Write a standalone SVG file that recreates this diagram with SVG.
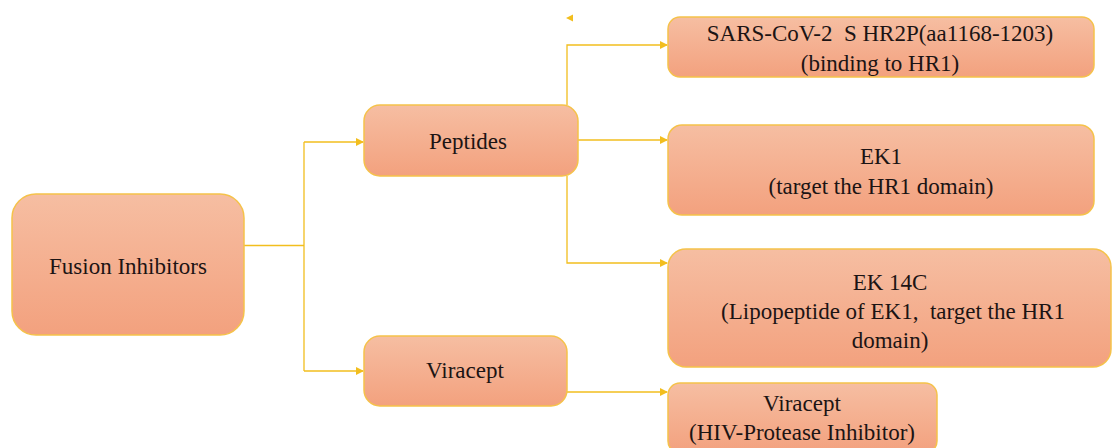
<svg xmlns="http://www.w3.org/2000/svg" width="1113" height="448" viewBox="0 0 1113 448" font-family="Liberation Serif, Times New Roman, serif">
<defs>
<linearGradient id="g" x1="0" y1="0" x2="0" y2="1">
<stop offset="0" stop-color="#F6BEA2"/>
<stop offset="1" stop-color="#F3A17E"/>
</linearGradient>
<marker id="arr" markerWidth="8" markerHeight="8" refX="7" refY="4" orient="auto" markerUnits="userSpaceOnUse">
<path d="M0,0 L8,4 L0,8 Z" fill="#F2BE1E"/>
</marker>
<style>
.box{fill:url(#g);stroke:#F5C24A;stroke-width:1.5}
.t{font-size:23px;fill:#1c1414;text-anchor:middle}
.c{fill:none;stroke:#F2BE1E;stroke-width:1.3}
</style>
</defs>
<rect width="1113" height="448" fill="#ffffff"/>
<g id="connectors">
<path class="c" d="M244,245.5 H304"/>
<path class="c" d="M304,142 V371"/>
<path class="c" d="M304,142 H363" marker-end="url(#arr)"/>
<path class="c" d="M304,371 H363" marker-end="url(#arr)"/>
<path class="c" d="M567,105 V45 H667" marker-end="url(#arr)"/>
<path class="c" d="M578,140 H667" marker-end="url(#arr)"/>
<path class="c" d="M567,176 V263 H667" marker-end="url(#arr)"/>
<path class="c" d="M567,392 H667" marker-end="url(#arr)"/>
<path d="M566,18 L573,14.5 L573,21.5 Z" fill="#F2BE1E"/>
</g>
<g id="fusion">
<rect class="box" x="12" y="194" width="232" height="141" rx="24"/>
<text class="t" x="128" y="274" font-family="Liberation Serif, serif">Fusion Inhibitors</text>
</g>
<g id="peptides">
<rect class="box" x="364" y="105" width="214" height="71" rx="16"/>
<text class="t" x="468" y="149" font-family="Liberation Serif, serif">Peptides</text>
</g>
<g id="viracept">
<rect class="box" x="364" y="336" width="203" height="70" rx="16"/>
<text class="t" x="465" y="378" font-family="Liberation Serif, serif">Viracept</text>
</g>
<g id="sars">
<rect class="box" x="668" y="17" width="426" height="60" rx="12"/>
<text class="t" x="880" y="41" font-family="Liberation Serif, serif" xml:space="preserve">SARS-CoV-2  S HR2P(aa1168-1203)</text>
<text class="t" x="880" y="71" font-family="Liberation Serif, serif">(binding to HR1)</text>
</g>
<g id="ek1">
<rect class="box" x="668" y="125" width="426" height="90" rx="14"/>
<text class="t" x="881" y="164" font-family="Liberation Serif, serif">EK1</text>
<text class="t" x="881" y="194" font-family="Liberation Serif, serif">(target the HR1 domain)</text>
</g>
<g id="ek14c">
<rect class="box" x="668" y="249" width="443" height="118" rx="18"/>
<text class="t" x="890" y="290" font-family="Liberation Serif, serif">EK 14C</text>
<text class="t" x="893" y="319" font-family="Liberation Serif, serif" xml:space="preserve">(Lipopeptide of EK1,  target the HR1</text>
<text class="t" x="890" y="348" font-family="Liberation Serif, serif">domain)</text>
</g>
<g id="viracept2">
<rect class="box" x="668" y="383" width="269" height="70" rx="12"/>
<text class="t" x="802" y="411" font-family="Liberation Serif, serif">Viracept</text>
<text class="t" x="802" y="440" font-family="Liberation Serif, serif">(HIV-Protease Inhibitor)</text>
</g>
</svg>
